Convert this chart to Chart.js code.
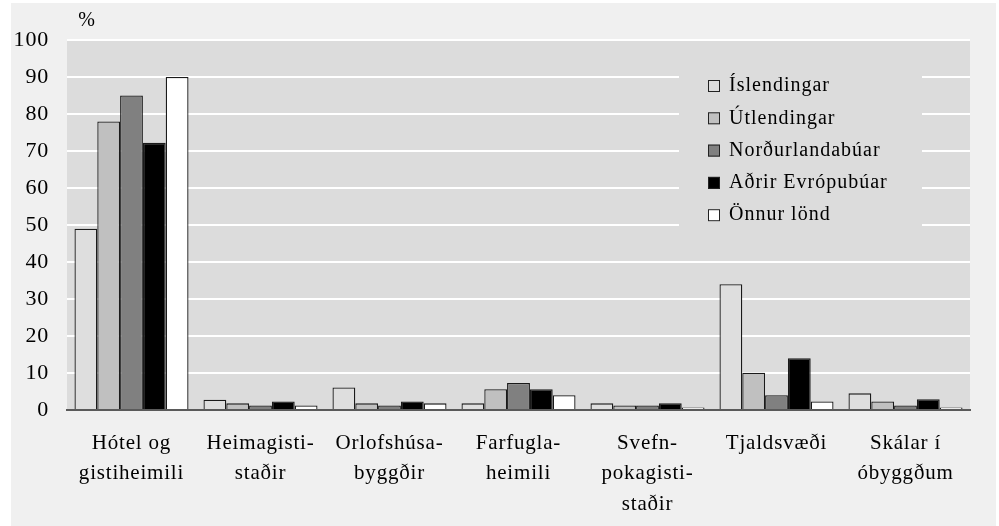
<!DOCTYPE html>
<html>
<head>
<meta charset="utf-8">
<script src="https://cdn.jsdelivr.net/npm/chart.js@4"></script>
<style>
html,body{margin:0;padding:0;background:#ffffff;}
#wrap{width:999px;height:526px;position:relative;}
</style>
</head>
<body>
<div id="wrap"><canvas id="c" width="999" height="526"></canvas></div>
<script>
const categories = [
  ['Hótel og','gistiheimili'],
  ['Heimagisti-','staðir'],
  ['Orlofshúsa-','byggðir'],
  ['Farfugla-','heimili'],
  ['Svefn-','pokagisti-','staðir'],
  ['Tjaldsvæði'],
  ['Skálar í','óbyggðum']
];
const seriesNames = ['Íslendingar','Útlendingar','Norðurlandabúar','Aðrir Evrópubúar','Önnur lönd'];
const islendingar     = [49, 2.8, 6.1, 1.8, 1.8, 34.0, 4.5];
const utlendingar     = [78, 1.8, 1.8, 5.6, 1.2, 10.1, 2.3];
const nordurlandabuar = [85, 1.2, 1.2, 7.3, 1.2, 4.0, 1.2];
const adrirEvropubuar = [72.2, 2.3, 2.3, 5.6, 1.8, 14.0, 2.9];
const onnurLond       = [90, 1.2, 1.8, 4.0, 0.7, 2.3, 0.7];
const yTicks = [0,10,20,30,40,50,60,70,80,90,100];
const unitLabel = '%';

const FONT = '"Liberation Serif", "Times New Roman", Times, serif';
const fills = ['#dedede','#c0c0c0','#808080','#000000','#ffffff'];
const seriesData = [islendingar, utlendingar, nordurlandabuar, adrirEvropubuar, onnurLond];

const bgPlugin = {
  id: 'bg',
  beforeDraw(chart) {
    const ctx = chart.ctx;
    ctx.save();
    ctx.fillStyle = '#f0f0f0';
    ctx.fillRect(11, 3, 985, 523);
    const a = chart.chartArea;
    ctx.fillStyle = '#dcdcdc';
    ctx.fillRect(a.left, a.top, a.right - a.left, a.bottom - a.top);
    ctx.restore();
    ctx.letterSpacing = '0.8px';
  },
  beforeDatasetsDraw(chart) {
    const ctx = chart.ctx;
    ctx.save();
    ctx.fillStyle = '#dcdcdc';
    ctx.fillRect(679, 58, 243, 186);
    ctx.restore();
  },
  afterDraw(chart) {
    const ctx = chart.ctx;
    ctx.save();
    ctx.letterSpacing = '1px';
    ctx.fillStyle = '#000';
    ctx.font = '20px ' + FONT;
    ctx.textBaseline = 'middle';
    ctx.textAlign = 'center';
    ctx.fillText(unitLabel, chart.chartArea.left + 20, 21);
    ctx.textAlign = 'left';
    chart.data.datasets.forEach((ds, i) => {
      const cy = 86 + i * 32.3;
      ctx.fillStyle = ds.backgroundColor;
      ctx.fillRect(708, cy - 6, 12, 12);
      ctx.strokeStyle = '#222';
      ctx.lineWidth = 1;
      ctx.strokeRect(708.5, cy - 5.5, 11, 11);
      ctx.fillStyle = '#000';
      ctx.fillText(ds.label, 729, cy);
    });
    ctx.restore();
  }
};

new Chart(document.getElementById('c'), {
  type: 'bar',
  data: {
    labels: categories,
    datasets: seriesNames.map((n, i) => ({
      label: n,
      data: seriesData[i],
      backgroundColor: fills[i],
      borderColor: '#1a1a1a',
      borderWidth: 1.3,
      borderSkipped: 'bottom',
      categoryPercentage: 0.884,
      barPercentage: 1.0
    }))
  },
  options: {
    responsive: false,
    animation: false,
    events: [],
    layout: { padding: { left: 11, right: 29, top: 40, bottom: 0 } },
    plugins: { legend: { display: false }, tooltip: { enabled: false } },
    scales: {
      x: {
        grid: { display: false, drawTicks: false },
        border: { display: true, color: '#5a5a5a', width: 2 },
        ticks: {
          color: '#000',
          font: { family: FONT, size: 21, lineHeight: 1.45 },
          padding: 18,
          maxRotation: 0,
          autoSkip: false
        },
        afterFit(s) { s.height = 116; }
      },
      y: {
        min: 0, max: 100,
        afterBuildTicks(s) { s.ticks = yTicks.map(v => ({ value: v })); },
        grid: {
          color: ctx => (ctx.tick && ctx.tick.value === 0) ? 'rgba(0,0,0,0)' : '#ffffff',
          lineWidth: 2,
          drawTicks: false
        },
        border: { display: false },
        ticks: {
          color: '#000',
          font: { family: FONT, size: 22 },
          padding: 18
        },
        afterFit(s) { s.width = 56; }
      }
    }
  },
  plugins: [bgPlugin]
});
</script>
</body>
</html>
